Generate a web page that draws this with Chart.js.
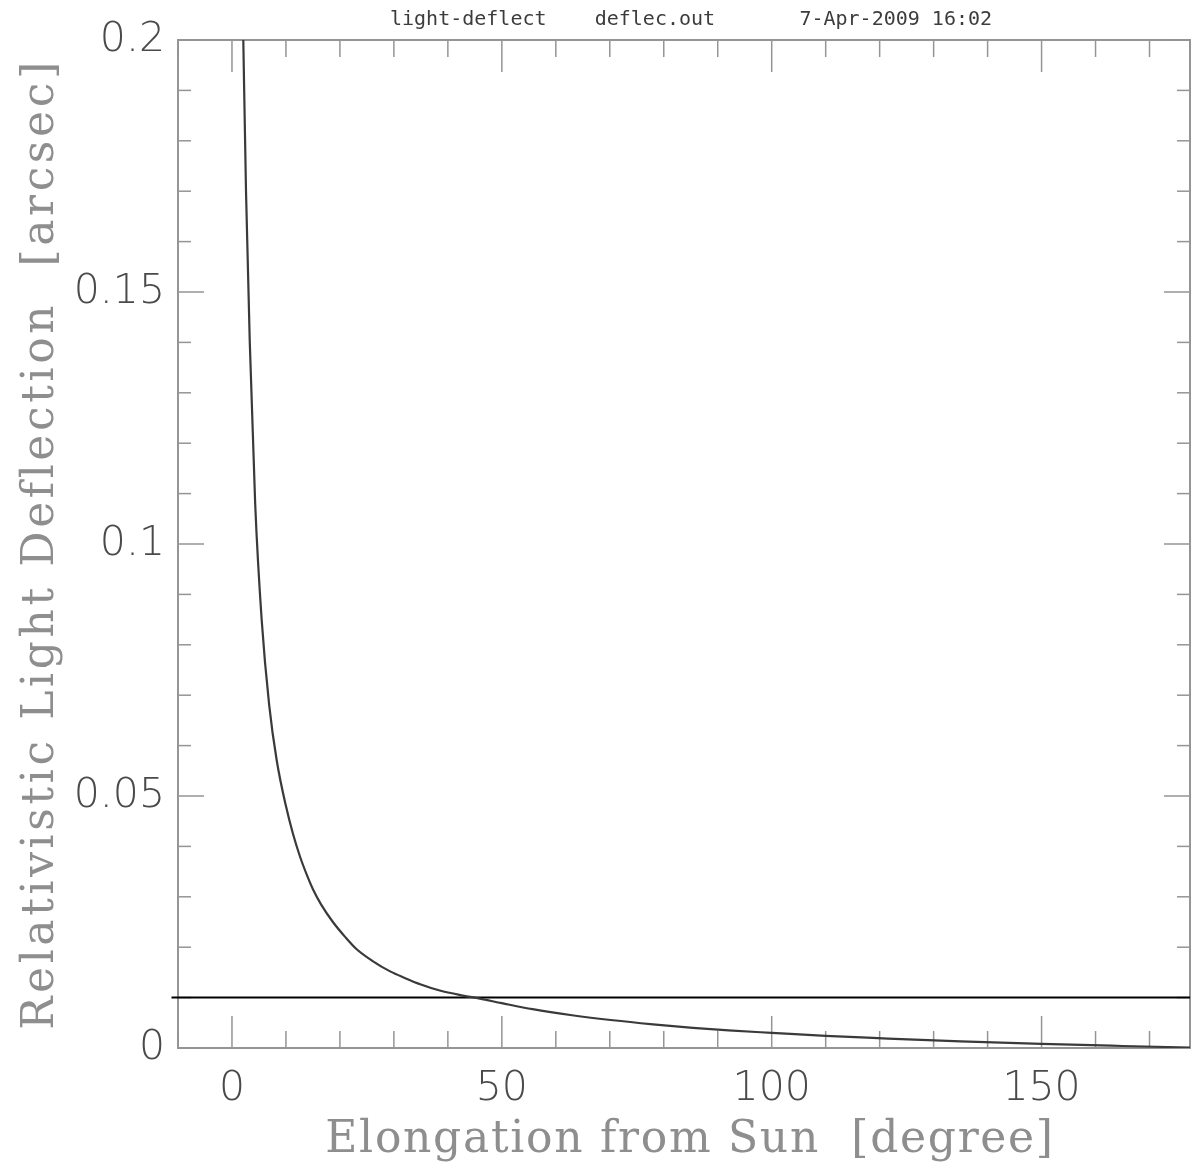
<!DOCTYPE html>
<html>
<head>
<meta charset="utf-8">
<script src="https://cdn.jsdelivr.net/npm/chart.js@4/dist/chart.umd.min.js"></script>
<style>
  html, body { margin: 0; padding: 0; background: #fff; }
  #wrap { width: 1192px; height: 1165px; }
</style>
</head>
<body>
<div id="wrap"><canvas id="deflect-chart"></canvas></div>
<script>
// elongation from sun [deg] and deflection [arcsec]
const elong = [2.1, 2.6, 3.3, 4.3, 5.5, 6.9, 8.3, 10, 11.3, 12.6, 14, 15, 16.5, 18.7, 21, 23, 26, 29.3, 32, 35, 38.5, 42.8, 45.9, 50, 55.7, 63, 70.6, 78, 85.4, 92, 100, 110, 118.7, 135, 150, 165, 177.5];
const deflect = [0.200, 0.170, 0.140, 0.108, 0.085, 0.068, 0.057, 0.048, 0.0425, 0.038, 0.034, 0.0315, 0.0285, 0.025, 0.022, 0.0197, 0.0173, 0.0152, 0.0139, 0.0126, 0.0114, 0.0104, 0.0098, 0.0089, 0.0077, 0.0065, 0.0055, 0.0047, 0.0040, 0.0035, 0.0030, 0.0024, 0.0020, 0.0013, 0.0008, 0.0004, 0.0001];

// 10 mas reference line (pokes just past the left axis)
const refX = [-11.2, 177.5];
const refY = [0.01, 0.01];

const xMajor = [0, 50, 100, 150];
const xMinor = [-10, 10, 20, 30, 40, 60, 70, 80, 90, 110, 120, 130, 140, 160, 170];
const yMajor = [0, 0.05, 0.1, 0.15, 0.2];
const yMinor = [0.01, 0.02, 0.03, 0.04, 0.06, 0.07, 0.08, 0.09, 0.11, 0.12, 0.13, 0.14, 0.16, 0.17, 0.18, 0.19];

const topTitle = 'light-deflect    deflec.out       7-Apr-2009 16:02';
const xTitle = 'Elongation from Sun  [degree]';
const yTitle = 'Relativistic Light Deflection  [arcsec]';

document.addEventListener('DOMContentLoaded', () => {
    drawChart();
});

// frame + inward ticks on all four sides (under the lines), then the spaced-out titles
const frameTicks = {
    id: 'frameTicks',
    beforeDatasetsDraw(chart) {
        const { ctx, chartArea: a, scales } = chart;
        const x = scales.x, y = scales.y;
        ctx.save();
        ctx.strokeStyle = '#959595';
        ctx.lineWidth = 2;
        ctx.strokeRect(a.left, a.top, a.right - a.left, a.bottom - a.top);
        const tick = (x1, y1, x2, y2) => {
            ctx.beginPath();
            ctx.moveTo(x1, y1);
            ctx.lineTo(x2, y2);
            ctx.stroke();
        };
        ctx.lineWidth = 1.5;
        xMajor.forEach(v => {
            const px = x.getPixelForValue(v);
            tick(px, a.bottom, px, a.bottom - 32);
            tick(px, a.top, px, a.top + 32);
        });
        xMinor.forEach(v => {
            const px = x.getPixelForValue(v);
            tick(px, a.bottom, px, a.bottom - 17);
            tick(px, a.top, px, a.top + 17);
        });
        yMajor.forEach(v => {
            const py = y.getPixelForValue(v);
            tick(a.left, py, a.left + 26, py);
            tick(a.right, py, a.right - 26, py);
        });
        yMinor.forEach(v => {
            const py = y.getPixelForValue(v);
            tick(a.left, py, a.left + 13, py);
            tick(a.right, py, a.right - 13, py);
        });
        ctx.restore();
    },
    afterDraw(chart) {
        const { ctx, chartArea: a } = chart;
        ctx.save();
        ctx.textBaseline = 'alphabetic';
        ctx.fillStyle = '#3c3c3c';
        ctx.font = '20px "DejaVu Sans Mono"';
        ctx.textAlign = 'left';
        ctx.fillText(topTitle, 390, 25);

        ctx.fillStyle = '#8e8e8e';
        ctx.font = '44px "DejaVu Serif"';
        ctx.textAlign = 'center';
        ctx.letterSpacing = '1.7px';
        ctx.fillText(xTitle, (a.left + a.right) / 2 + 6, 1152);

        ctx.translate(53, (a.top + a.bottom) / 2);
        ctx.rotate(-Math.PI / 2);
        ctx.letterSpacing = '3.6px';
        ctx.fillText(yTitle, 0, 0);
        ctx.restore();
    }
};

function drawChart() {
    const ctx = document.getElementById('deflect-chart').getContext('2d');

    const data = {
        datasets: [
            {
                label: 'deflection',
                data: elong.map((e, i) => ({ x: e, y: deflect[i] })),
                borderColor: '#3a3a3a',
                borderWidth: 2.2,
                pointRadius: 0,
                cubicInterpolationMode: 'monotone',
                fill: false
            },
            {
                label: '0.01',
                data: refX.map((e, i) => ({ x: e, y: refY[i] })),
                borderColor: '#000',
                borderWidth: 2,
                pointRadius: 0,
                clip: false,
                fill: false
            }
        ]
    };

    const config = {
        type: 'line',
        data: data,
        options: {
            responsive: true,
            maintainAspectRatio: false,
            animation: false,
            layout: { padding: { top: 40, right: 2, left: 0, bottom: 0 } },
            plugins: {
                legend: { display: false },
                tooltip: { enabled: false },
                title: { display: false }
            },
            scales: {
                x: {
                    type: 'linear',
                    min: -10,
                    max: 177.5,
                    afterFit(scale) { scale.height = 117; },
                    afterBuildTicks(scale) { scale.ticks = xMajor.map(v => ({ value: v })); },
                    grid: { display: false },
                    border: { display: false },
                    ticks: {
                        padding: 9,
                        color: '#4a4a4a',
                        font: { family: 'DejaVu Sans', size: 41, weight: 200 },
                        callback: v => String(v)
                    },
                    title: { display: false, text: xTitle }
                },
                y: {
                    type: 'linear',
                    min: 0,
                    max: 0.2,
                    afterFit(scale) { scale.width = 178; },
                    afterBuildTicks(scale) { scale.ticks = yMajor.map(v => ({ value: v })); },
                    grid: { display: false },
                    border: { display: false },
                    ticks: {
                        padding: 5,
                        color: '#4a4a4a',
                        font: { family: 'DejaVu Sans', size: 41, weight: 200 },
                        callback: v => String(Math.round(v * 100) / 100)
                    },
                    title: { display: false, text: yTitle }
                }
            }
        },
        plugins: [frameTicks]
    };

    new Chart(ctx, config);
}
</script>
</body>
</html>
